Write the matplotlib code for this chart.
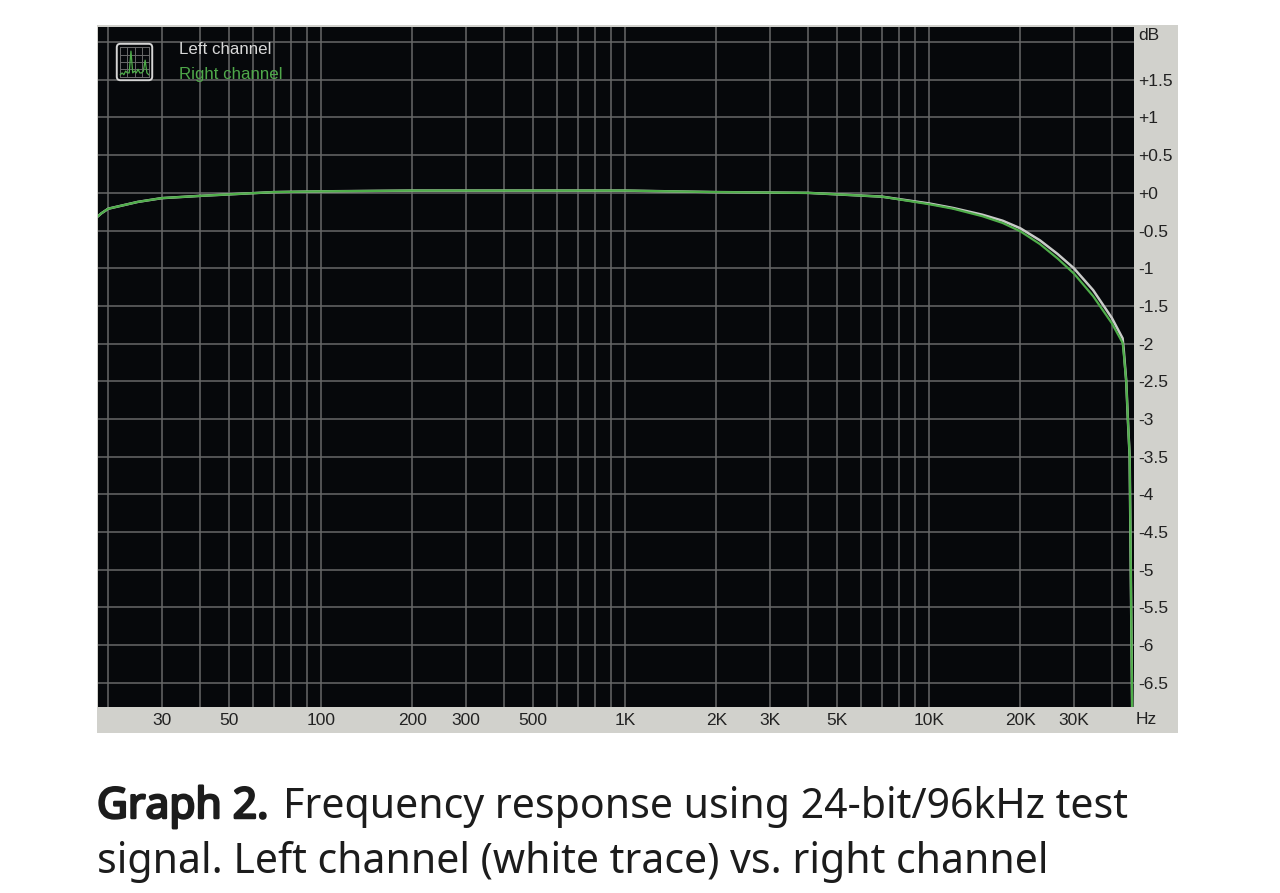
import matplotlib
matplotlib.use('Agg')
import matplotlib.pyplot as plt
import matplotlib.patheffects as pe
import numpy as np
from matplotlib.patches import FancyBboxPatch, Rectangle

# values
freq_left = [18.5, 19, 20, 25, 30, 40, 50, 70, 100, 200, 500, 1000, 2000, 4000, 5000, 7000, 10000, 12000,
             15000, 17500, 20000, 23200, 26500, 30000, 34700, 40000, 43400, 43800, 44600, 45150, 45770, 46640, 46700]
db_left = [-0.31, -0.27, -0.21, -0.12, -0.07, -0.04, -0.02, 0.01, 0.02, 0.03, 0.03, 0.03, 0.01, 0.0, -0.02,
           -0.05, -0.14, -0.2, -0.29, -0.37, -0.47, -0.63, -0.81, -1.0, -1.29, -1.66, -1.93, -2.1, -2.5, -3.0,
           -3.5, -6.8, -7.0]
freq_right = [18.5, 19, 20, 25, 30, 40, 50, 70, 100, 200, 500, 1000, 2000, 4000, 5000, 7000, 10000, 12000,
              15000, 17500, 20000, 23200, 26500, 30000, 34700, 40000, 43400, 43800, 44600, 45150, 45770, 46640, 46700]
db_right = [-0.31, -0.27, -0.21, -0.12, -0.07, -0.04, -0.02, 0.01, 0.02, 0.03, 0.03, 0.03, 0.01, 0.0, -0.02,
            -0.05, -0.15, -0.21, -0.31, -0.4, -0.51, -0.68, -0.87, -1.07, -1.37, -1.73, -1.99, -2.15, -2.5, -3.0,
            -3.5, -6.8, -7.0]

x_grid = [20, 30, 40, 50, 60, 70, 80, 90, 100, 200, 300, 400, 500, 600, 700, 800, 900, 1000,
          2000, 3000, 4000, 5000, 6000, 7000, 8000, 9000, 10000, 20000, 30000, 40000]
x_ticks = [30, 50, 100, 200, 300, 500, 1000, 2000, 3000, 5000, 10000, 20000, 30000]
x_labels = ['30', '50', '100', '200', '300', '500', '1K', '2K', '3K', '5K', '10K', '20K', '30K']
y_ticks = [1.5, 1, 0.5, 0, -0.5, -1, -1.5, -2, -2.5, -3, -3.5, -4, -4.5, -5, -5.5, -6, -6.5]
y_labels = ['+1.5', '+1', '+0.5', '+0', '-0.5', '-1', '-1.5', '-2', '-2.5', '-3', '-3.5', '-4', '-4.5', '-5',
            '-5.5', '-6', '-6.5']
y_grid = [2] + y_ticks

# icon spectrum
icon_x = [0, 1, 2, 3, 4, 5, 6, 7, 8, 9, 10, 11, 12, 13, 14, 15, 16]
icon_y = [1, 2, 1, 3, 2, 2, 14, 2, 3, 2, 4, 2, 2, 3, 9, 2, 1]

W, H = 1280, 893
fig = plt.figure(figsize=(W / 100, H / 100), dpi=100, facecolor='white')

# grey window behind the plot
fig.add_artist(Rectangle((97 / W, 1 - 733 / H), 1081 / W, 708 / H, transform=fig.transFigure,
                         facecolor='#d1d1cc', edgecolor='none', zorder=-1))

ax = fig.add_axes([98 / W, 1 - 707 / H, 1036 / W, 680 / H], facecolor='#06080b')
ax.set_xscale('log')
ax.set_xlim(18.5, 47300)
ax.set_ylim(-6.82, 2.2)
for s in ax.spines.values():
    s.set_visible(False)

grid_col = '#676868'
ax.vlines(x_grid, -6.82, 2.2, color=grid_col, lw=1.1, zorder=1)
ax.hlines(y_grid, 18.5, 47300, color=grid_col, lw=1.1, zorder=1)

ax.plot(freq_left, db_left, color='#c9cbc9', lw=1.8, zorder=3, solid_joinstyle='round')
ax.plot(freq_right, db_right, color='#4fae4a', lw=1.6, zorder=4, solid_joinstyle='round')

lab = dict(family='Liberation Sans', fontsize=12.5, color='#222222')
ax.set_xticks(x_ticks)
ax.set_xticklabels(x_labels, **lab)
ax.minorticks_off()
ax.tick_params(axis='x', length=0, pad=4)
ax.yaxis.tick_right()
ax.set_yticks(y_ticks)
ax.set_yticklabels(y_labels, **lab)
ax.tick_params(axis='y', length=0, pad=3)
fig.text(1138 / W, 1 - 36 / H, 'dB', va='center', ha='left', **lab)
fig.text(1146 / W, 1 - 720 / H, 'Hz', va='center', ha='center', **lab)

# legend text inside the plot
fig.text(179 / W, 1 - 49 / H, 'Left channel', va='center', ha='left', family='Liberation Sans',
         fontsize=12.2, color='#d8d8d8', zorder=5)
fig.text(179 / W, 1 - 74 / H, 'Right channel', va='center', ha='left', family='Liberation Sans',
         fontsize=12.2, color='#4fa84a', zorder=5)

# small analyser icon
icon = fig.add_axes([115 / W, 1 - 82 / H, 39 / W, 40 / H], facecolor='none')
icon.set_xlim(-3, 19)
icon.set_ylim(-3, 19)
icon.axis('off')
icon.add_patch(FancyBboxPatch((-2, -2), 20, 20, boxstyle='round,pad=0,rounding_size=2', facecolor='#06080b',
                              edgecolor='#d5d5d5', lw=1.4))
for g in [0, 4, 8, 12, 16]:
    icon.plot([g, g], [0, 16], color='#6a6a6a', lw=0.7)
    icon.plot([0, 16], [g, g], color='#6a6a6a', lw=0.7)
icon.plot(icon_x, icon_y, color='#4fae4a', lw=0.9)

# caption, the bold face is not available so it gets a stroke
cap = 'Noto Sans'
size = 29.5
fig.text(97 / W, 1 - 818 / H, 'Graph 2.', family=cap, fontsize=30.6, color='#1c1c1c', va='baseline',
         path_effects=[pe.withStroke(linewidth=1.8, foreground='#1c1c1c')])
fig.text(283 / W, 1 - 818 / H, 'Frequency response using 24-bit/96kHz test', family=cap, fontsize=size,
         color='#1c1c1c', va='baseline')
fig.text(97 / W, 1 - 873 / H, 'signal. Left channel (white trace) vs. right channel', family=cap, fontsize=size,
         color='#1c1c1c', va='baseline')

fig.savefig('out.png', dpi=100)
